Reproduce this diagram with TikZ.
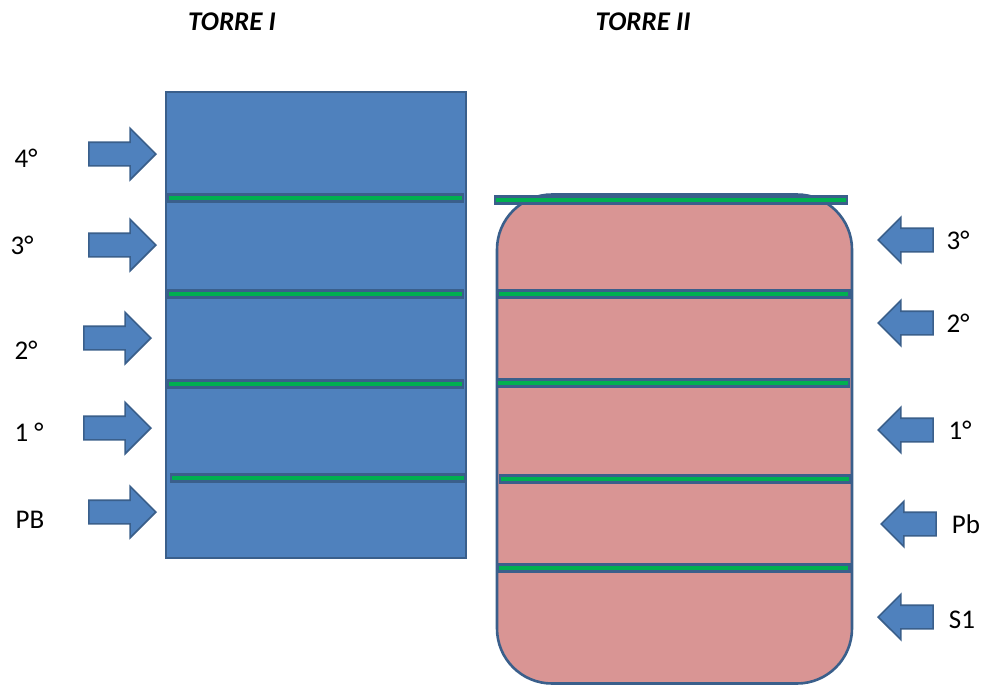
\documentclass[tikz,border=0pt]{standalone}
\usepackage{fontspec}
\setmainfont{Carlito}
\usetikzlibrary{shapes.arrows}
\definecolor{towerblue}{HTML}{4F81BD}
\definecolor{edgeblue}{HTML}{3A5F8B}
\definecolor{towerpink}{HTML}{D99594}
\definecolor{slabgreen}{HTML}{00B050}
\begin{document}
\begin{tikzpicture}[x=1pt,y=-1pt,
  title/.style={font=\fontsize{27}{32}\selectfont\bfseries\itshape},
  floorlabel/.style={font=\fontsize{27}{32}\selectfont},
  tower/.style={draw=edgeblue,line width=2.6pt,inner sep=0pt},
  slab/.style={draw=edgeblue,fill=slabgreen,line width=2.4pt,minimum height=7pt,inner sep=0pt},
  floorarrow/.style={single arrow,draw=edgeblue,fill=towerblue,line width=1.6pt,
    inner xsep=0pt,single arrow tip angle=90,anchor=tip},
  inarrow/.style={floorarrow,inner ysep=11pt,single arrow head extend=14pt,minimum height=67pt},
  outarrow/.style={floorarrow,inner ysep=11pt,single arrow head extend=11pt,minimum height=55pt,
    shape border rotate=180}]
\useasboundingbox (0,0) rectangle (986,686);

% titles
\node[title] (t1) at (232,22) {TORRE I};
\node[title] (t2) at (643,22) {TORRE II};

% tower I
\node[tower,fill=towerblue,minimum width=300pt,minimum height=466pt] (tI) at (316,325) {};
\node[slab,minimum width=295pt] (sI4) at (315.5,198) {};
\node[slab,minimum width=295pt] (sI3) at (315.5,294) {};
\node[slab,minimum width=295pt] (sI2) at (315.5,384) {};
\node[slab,minimum width=294pt] (sI1) at (318,478) {};

% tower II
\node[tower,fill=towerpink,rounded corners=55pt,minimum width=355pt,minimum height=489pt] (tII) at (674.5,439) {};
\node[slab,minimum width=352pt] (sII4) at (671,200) {};
\node[slab,minimum width=352pt] (sII3) at (673.5,294) {};
\node[slab,minimum width=352pt] (sII2) at (673,383) {};
\node[slab,minimum width=350pt] (sII1) at (675,479) {};
\node[slab,minimum width=352pt] (sII0) at (673.5,568) {};

% floor arrows, tower I (placed by their tips)
\node[inarrow] (a4) at (157,154) {};
\node[inarrow] (a3) at (157,245) {};
\node[inarrow] (a2) at (152,338) {};
\node[inarrow] (a1) at (152,428) {};
\node[inarrow] (a0) at (157,512) {};
\node[floorlabel] (l4) at (26,158) {4°};
\node[floorlabel] (l3) at (22,245) {3°};
\node[floorlabel] (l2) at (26,350) {2°};
\node[floorlabel] (l1) at (29,432) {1 °};
\node[floorlabel] (l0) at (30,520) {PB};

% floor arrows, tower II (placed by their tips)
\node[outarrow] (b3) at (877,240) {};
\node[outarrow] (b2) at (877,323) {};
\node[outarrow] (b1) at (877,430) {};
\node[outarrow] (b0) at (880,524) {};
\node[outarrow] (bs) at (877,617) {};
\node[floorlabel] (m3) at (958,240) {3°};
\node[floorlabel] (m2) at (958,323) {2°};
\node[floorlabel] (m1) at (960,430) {1°};
\node[floorlabel] (m0) at (966,524) {Pb};
\node[floorlabel] (ms) at (962,620) {S1};
\end{tikzpicture}
\end{document}
